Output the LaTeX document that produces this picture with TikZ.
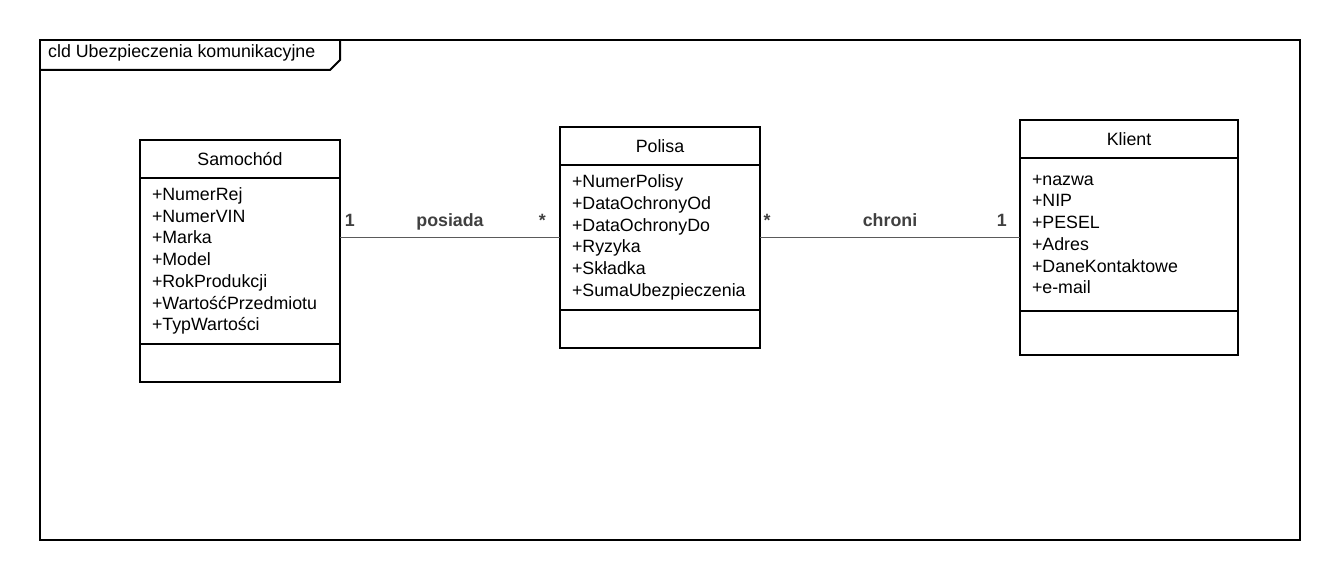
\documentclass[tikz,border=0pt]{standalone}
\usepackage{fontspec}
\setmainfont{Liberation Sans}
\usetikzlibrary{positioning}
\definecolor{linkgray}{RGB}{90,90,90}
\definecolor{labelgray}{RGB}{64,64,64}
\newcommand{\diagfont}{\fontsize{17.8pt}{21.7pt}\selectfont}

\tikzset{
 classhead/.style={draw, line width=2pt, minimum height=38pt, inner sep=0pt, outer sep=0pt},
 classbody/.style={draw, line width=2pt, inner sep=0pt, outer sep=0pt, align=left},
 assoc/.style={draw=linkgray, line width=1.8pt},
 mult/.style={text=labelgray, font=\diagfont\bfseries, anchor=base, yshift=11pt}
}

\newcommand{\umlclass}[8]{%
 \node (#1) [classhead, minimum width=#3, anchor=north west] at (#2) {#6};%
 \node (#1-attr) [classbody, minimum width=#3, text width=#4, minimum height=#5, anchor=north] at (#1.south) {#7};%
 \node (#1-ops) [classhead, minimum width=#3, minimum height=#8, anchor=north] at (#1-attr.south) {};%
}

\begin{document}
\begin{tikzpicture}[x=1pt, y=-1pt, font=\diagfont]
  \useasboundingbox (0,0) rectangle (1340,580);
  % frame
  \draw[line width=2pt] (40,40) rectangle (1300,540);
  \draw[line width=2pt] (40,70) -- (330,70) -- (340,60) -- (340,40);
  \node (frametitle) [anchor=base west, inner sep=0pt] at (48,58) {cld Ubezpieczenia komunikacyjne};

  \umlclass{Samochod}{140,140}{200pt}{176pt}{166pt}{Samoch\'od}{+NumerRej\\+NumerVIN\\+Marka\\+Model\\+RokProdukcji\\+Warto\'s\'cPrzedmiotu\\+TypWarto\'sci}{38pt};
  \umlclass{Polisa}{560,127}{200pt}{176pt}{145pt}{Polisa}{+NumerPolisy\\+DataOchronyOd\\+DataOchronyDo\\+Ryzyka\\+Sk\l adka\\+SumaUbezpieczenia}{38pt};
  \umlclass{Klient}{1020,120}{218pt}{194pt}{153pt}{Klient}{+nazwa\\+NIP\\+PESEL\\+Adres\\+DaneKontaktowe\\+e-mail}{44pt};

  \path[assoc] (Polisa-attr.west -| Samochod-attr.east) edge node[mult, pos=0.045] {1} node[mult] {posiada} node[mult, pos=0.92] {*} (Polisa-attr.west);
  \path[assoc] (Polisa-attr.east) edge node[mult, pos=0.027] {*} node[mult] {chroni} node[mult, pos=0.93] {1} (Polisa-attr.east -| Klient-attr.west);
\end{tikzpicture}
\end{document}
